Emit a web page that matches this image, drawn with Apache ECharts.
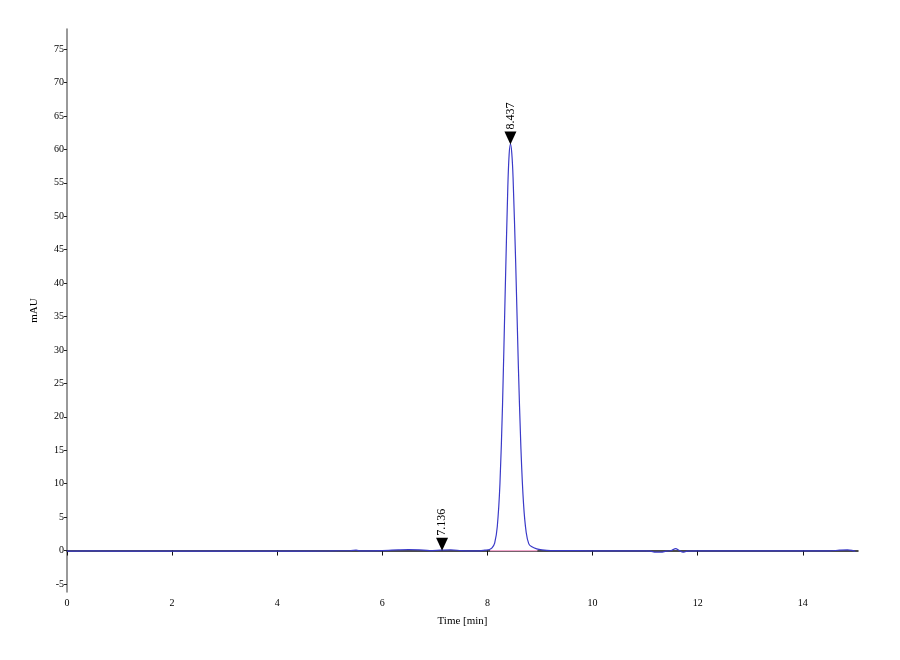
<!DOCTYPE html>
<html>
<head>
<meta charset="utf-8">
<script src="https://cdn.jsdelivr.net/npm/echarts@6/dist/echarts.min.js"></script>
<style>
html,body{margin:0;padding:0;background:#fff;}
#chart{width:900px;height:660px;}
</style>
</head>
<body>
<div id="chart"></div>
<script>
// Chromatogram trace: time (min) and absorbance (mAU)
var traceTime = [0,0.5,1,2,3,4,5,5.4,5.5,5.6,6,6.3,6.5,6.7,6.9,7.1,7.3,7.5,7.7,7.85,7.95,
  8.037,8.087,8.137,8.187,8.237,8.287,8.337,8.387,8.412,8.437,8.462,8.487,8.537,8.587,8.637,8.687,8.737,8.787,8.837,8.937,9.037,9.2,9.5,
  10,10.5,11,11.1,11.2,11.3,11.4,11.5,11.58,11.65,11.72,11.8,12,13,13.4,14,14.5,14.7,14.85,14.95,15.0];
var traceValue = [-0.1,-0.05,-0.1,-0.1,-0.1,-0.1,-0.05,0.0,0.05,-0.05,0,0.1,0.15,0.1,0.0,0.05,0.1,0.0,-0.05,-0.05,0.05,
  0.15,0.4,1.1,3.6,9.9,21.9,38.6,54.3,59.2,60.8,59.5,55.8,43.0,27.8,15.2,6.9,2.7,1.0,0.6,0.25,0.1,0.0,0.0,
  -0.05,-0.05,-0.05,-0.1,-0.25,-0.25,-0.1,0.0,0.3,0.0,-0.25,-0.1,-0.05,-0.05,-0.05,-0.05,-0.05,0.05,0.1,0.0,-0.1];
// Integration baseline of the main peak
var baseTime = [8.05, 8.95];
var baseValue = [0, 0];
// Peak markers
var peakTime = [7.136, 8.437];
var peakValue = [0.05, 60.8];
var peakLabel = ['7.136', '8.437'];
// Tick labels
var yTicks = [-5,0,5,10,15,20,25,30,35,40,45,50,55,60,65,70,75];
var xTicks = [0,2,4,6,8,10,12,14];

var trace = traceTime.map(function(t,i){return [t, traceValue[i]];});
var base = baseTime.map(function(t,i){return [t, baseValue[i]];});
var peaks = peakTime.map(function(t,i){return [t, peakValue[i], peakLabel[i]];});

var serif = 'Liberation Serif';
var chart = echarts.init(document.getElementById('chart'));
chart.setOption({
  backgroundColor:'#fff',
  animation:false,
  grid:{left:67,right:42,top:29,bottom:68},
  xAxis:{
    type:'value', min:0, max:15.05,
    name:'Time [min]', nameLocation:'middle', nameGap:24,
    nameTextStyle:{fontFamily:serif,fontSize:11,color:'#000'},
    axisLine:{lineStyle:{color:'#111',width:1.5}},
    axisTick:{show:true,length:5,lineStyle:{color:'#111'},customValues:xTicks},
    axisLabel:{fontFamily:serif,fontSize:10,color:'#000',margin:6,customValues:xTicks},
    splitLine:{show:false}
  },
  yAxis:{
    type:'value', min:-6.2, max:78,
    name:'mAU', nameLocation:'middle', nameGap:27, nameRotate:90,
    nameTextStyle:{fontFamily:serif,fontSize:11,color:'#000'},
    axisLine:{show:true,lineStyle:{color:'#777',width:1.5}},
    axisTick:{show:true,length:3,lineStyle:{color:'#222'},customValues:yTicks},
    axisLabel:{fontFamily:serif,fontSize:10,color:'#000',margin:3,customValues:yTicks},
    splitLine:{show:false}
  },
  series:[
    {type:'line',data:base,symbol:'none',lineStyle:{color:'#f2a6cc',width:1.2},z:2},
    {type:'line',data:trace,symbol:'none',smooth:0.3,lineStyle:{color:'#3a3ac8',width:1.2},z:3},
    {type:'scatter',data:peaks,symbol:'triangle',symbolRotate:180,symbolSize:[12,13],symbolOffset:[0,-6],
     itemStyle:{color:'#000',opacity:1},z:5,
     emphasis:{disabled:true},
     label:{show:true,position:'top',rotate:90,align:'left',verticalAlign:'middle',distance:2,
       fontFamily:serif,fontSize:12,color:'#000',
       formatter:function(p){return p.data[2];}}}
  ]
});
</script>
</body>
</html>
